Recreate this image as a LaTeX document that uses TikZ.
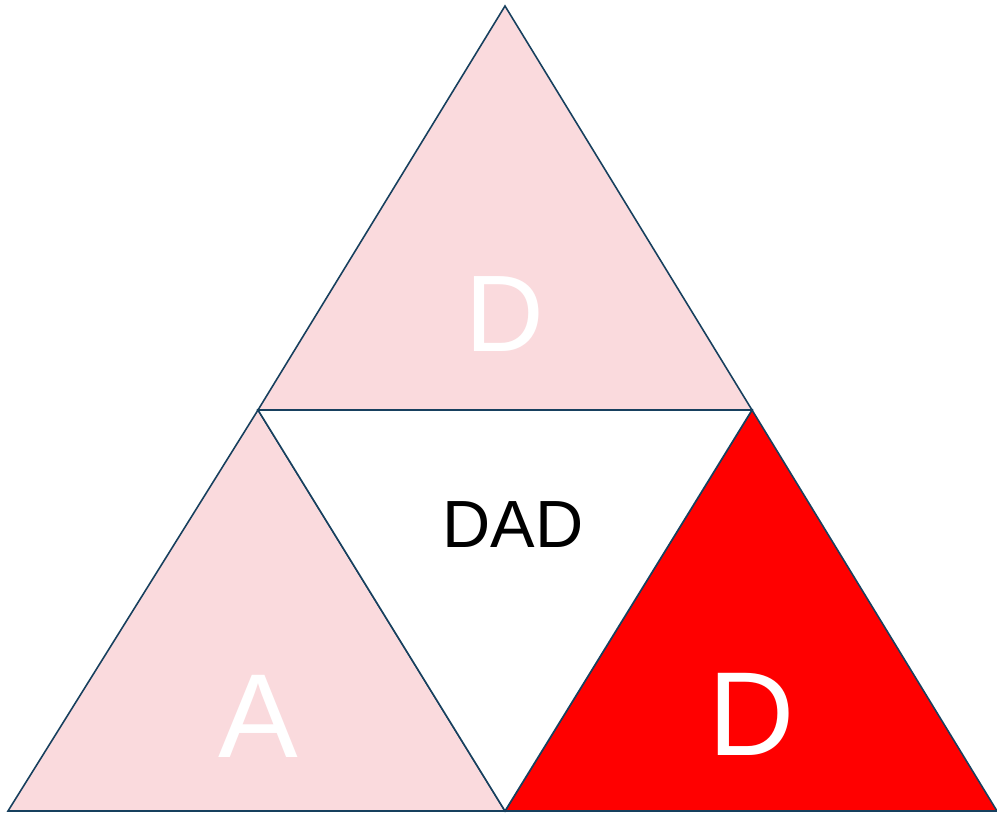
\documentclass[tikz,border=0pt]{standalone}
\usepackage{fontspec}
\setmainfont{Liberation Sans}
\usepackage{tikz}
\usetikzlibrary{calc}
\definecolor{trilight}{HTML}{FADADD}
\definecolor{trired}{HTML}{FF0000}
\definecolor{triedge}{HTML}{17405E}

\begin{document}
\begin{tikzpicture}[
  x=0.02cm, y=-0.02cm,
  tri/.style={draw=triedge, line width=0.9pt, line join=miter},
  letter/.style={font=\fontsize{62}{62}\selectfont, text=white, inner sep=0pt},
  bigletter/.style={font=\fontsize{68}{68}\selectfont, text=white, inner sep=0pt},
  word/.style={font=\fontsize{38}{38}\selectfont, text=black, inner sep=0pt}
]
  \useasboundingbox (0,0) rectangle (997,813);

  % Corners and midpoints of the large triangle
  \coordinate (apex) at (505,6);
  \coordinate (bl) at (8,811);
  \coordinate (br) at (997,811);
  \coordinate (ml) at (258,410);
  \coordinate (mr) at (752,410);
  \coordinate (mb) at (505,811);

  % Three corner triangles and the centre one
  \filldraw[tri, fill=trilight] (apex) -- (ml) -- (mr) -- cycle;
  \filldraw[tri, fill=trilight] (ml) -- (bl) -- (mb) -- cycle;
  \filldraw[tri, fill=trired] (mr) -- (mb) -- (br) -- cycle;
  \filldraw[tri, fill=white] (ml) -- (mr) -- (mb) -- cycle;

  % Labels
  \node[letter] (top) at (505,314) {D};
  \node[bigletter] (left) at (258,716) {A};
  \node[bigletter] (right) at (752,714) {D};
  \node[word] (centre) at (513,525) {DAD};
\end{tikzpicture}
\end{document}
